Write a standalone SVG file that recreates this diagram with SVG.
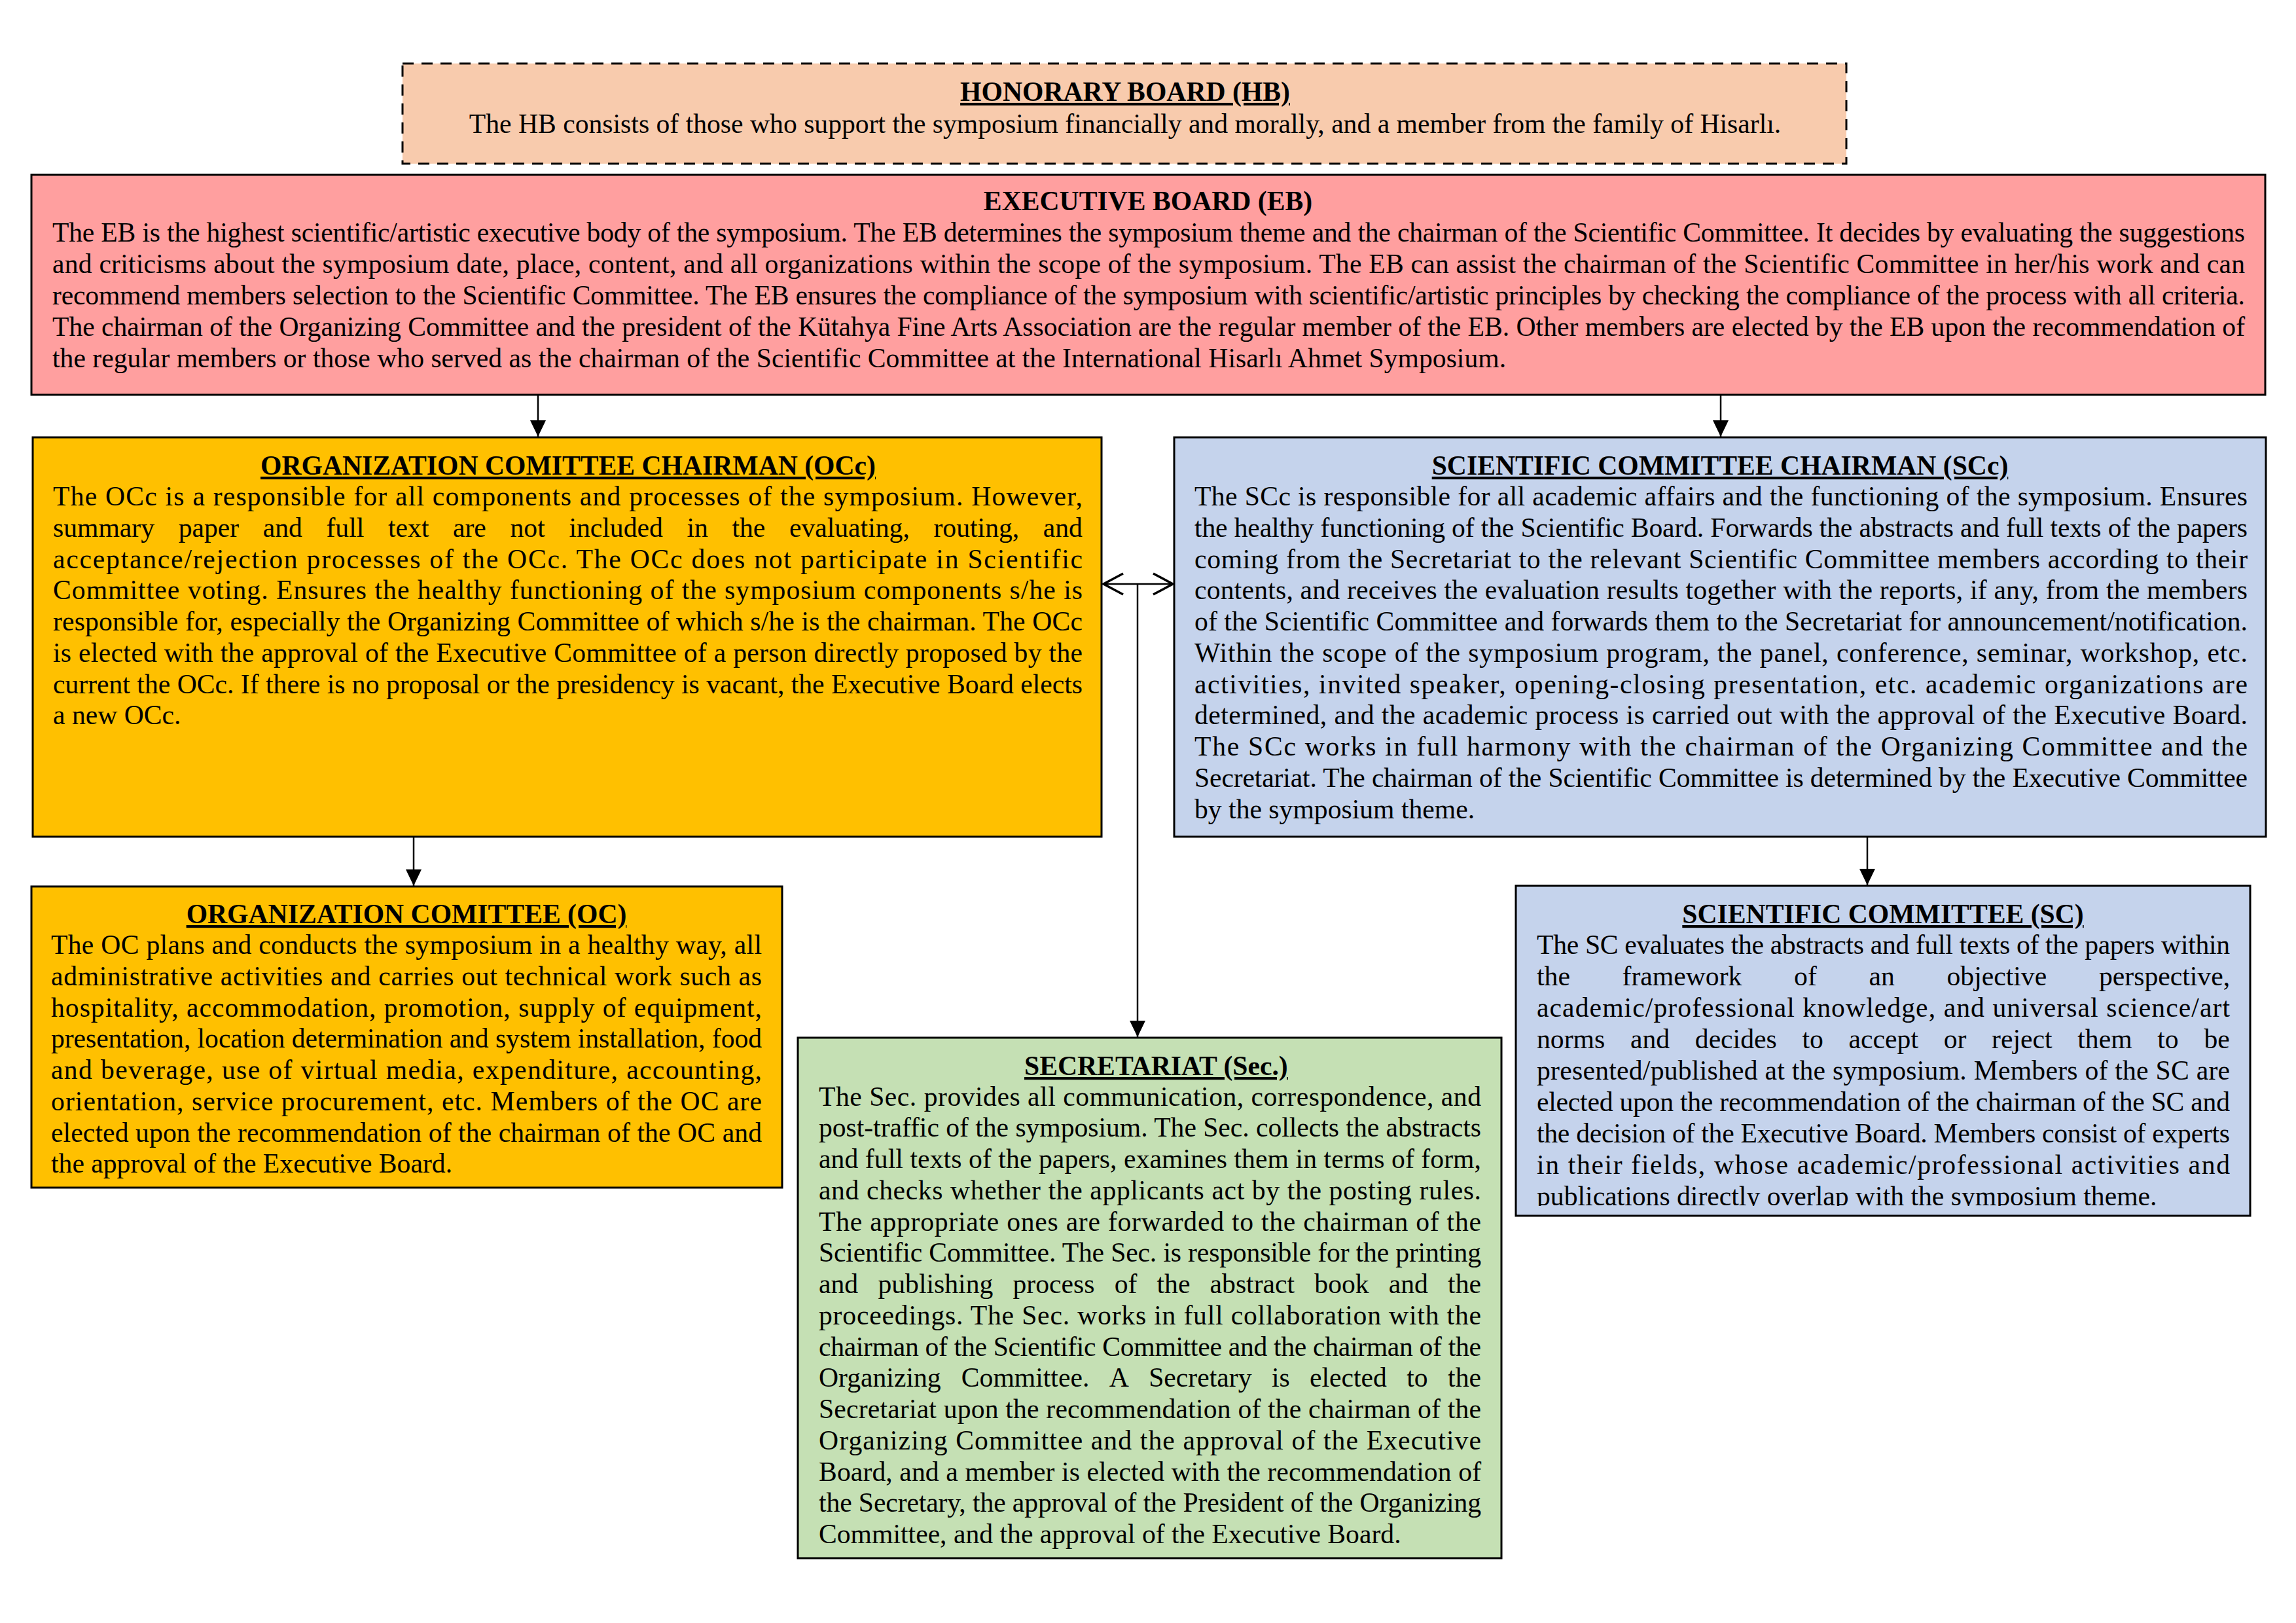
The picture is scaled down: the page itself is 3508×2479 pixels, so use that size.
<svg xmlns="http://www.w3.org/2000/svg" width="3508" height="2479" viewBox="0 0 3508 2479">
<style>
text{font-family:"Liberation Serif","Times New Roman",serif;font-size:41.67px;fill:#000}
.h{font-weight:bold;text-anchor:middle}
.u{text-decoration:underline}
.box{stroke:#000;stroke-width:3}
.con{fill:none;stroke:#000;stroke-width:2.5}
</style>
<defs>
<marker id="tri" markerUnits="userSpaceOnUse" markerWidth="26" markerHeight="26" refX="25" refY="12" orient="auto">
<path d="M0,0 L25,12 L0,24 Z" fill="#000"/>
</marker>
<marker id="chev" markerUnits="userSpaceOnUse" markerWidth="36" markerHeight="40" refX="32" refY="18" orient="auto-start-reverse">
<path d="M2,2 L32,18 L2,34" fill="none" stroke="#000" stroke-width="3.5"/>
</marker>
<clipPath id="scclip"><rect x="2316" y="1353" width="1122" height="489"/></clipPath>
</defs>
<rect x="0" y="0" width="3508" height="2479" fill="#fff"/>

<g id="connectors">
<line class="con" x1="822" y1="604" x2="822" y2="667" marker-end="url(#tri)"/>
<line class="con" x1="2629" y1="604" x2="2629" y2="667" marker-end="url(#tri)"/>
<line class="con" x1="632" y1="1279" x2="632" y2="1353" marker-end="url(#tri)"/>
<line class="con" x1="2853" y1="1279" x2="2853" y2="1352" marker-end="url(#tri)"/>
<line class="con" x1="1686" y1="892" x2="1792" y2="892" marker-start="url(#chev)" marker-end="url(#chev)"/>
<line class="con" x1="1738" y1="892" x2="1738" y2="1584" marker-end="url(#tri)"/>
</g>

<g id="hb">
<rect class="box" x="615" y="97" width="2206" height="153" fill="#F8CBAD" stroke-width="4" stroke-dasharray="17 12"/>
<text class="h u" x="1719" y="154">HONORARY BOARD (HB)</text>
<text x="1719" y="203" text-anchor="middle">The HB consists of those who support the symposium financially and morally, and a member from the family of Hisarlı.</text>
</g>

<g id="eb">
<rect class="box" x="48" y="267" width="3413" height="336" fill="#FF9F9F"/>
<text class="h" x="1754" y="321">EXECUTIVE BOARD (EB)</text>
<text x="80" y="368.5" textLength="3350" lengthAdjust="spacing">The EB is the highest scientific/artistic executive body of the symposium. The EB determines the symposium theme and the chairman of the Scientific Committee. It decides by evaluating the suggestions</text>
<text x="80" y="416.5" textLength="3350" lengthAdjust="spacing">and criticisms about the symposium date, place, content, and all organizations within the scope of the symposium. The EB can assist the chairman of the Scientific Committee in her/his work and can</text>
<text x="80" y="464.5" textLength="3350" lengthAdjust="spacing">recommend members selection to the Scientific Committee. The EB ensures the compliance of the symposium with scientific/artistic principles by checking the compliance of the process with all criteria.</text>
<text x="80" y="512.5" textLength="3350" lengthAdjust="spacing">The chairman of the Organizing Committee and the president of the Kütahya Fine Arts Association are the regular member of the EB. Other members are elected by the EB upon the recommendation of</text>
<text x="80" y="560.5">the regular members or those who served as the chairman of the Scientific Committee at the International Hisarlı Ahmet Symposium.</text>
</g>

<g id="occ">
<rect class="box" x="50" y="668" width="1633" height="610" fill="#FFC000"/>
<text class="h u" x="868" y="725">ORGANIZATION COMITTEE CHAIRMAN (OCc)</text>
<text x="81" y="772" textLength="1573" lengthAdjust="spacing">The OCc is a responsible for all components and processes of the symposium. However,</text>
<text y="819.75"><tspan x="81">summary</tspan><tspan x="272.7">paper</tspan><tspan x="401.7">and</tspan><tspan x="498.5">full</tspan><tspan x="593">text</tspan><tspan x="692">are</tspan><tspan x="779.5">not</tspan><tspan x="869.4">included</tspan><tspan x="1049.5">in</tspan><tspan x="1118.4">the</tspan><tspan x="1205.9">evaluating,</tspan><tspan x="1426.5">routing,</tspan><tspan x="1593.8">and</tspan></text>
<text x="81" y="867.5" textLength="1573" lengthAdjust="spacing">acceptance/rejection processes of the OCc. The OCc does not participate in Scientific</text>
<text x="81" y="915.25" textLength="1573" lengthAdjust="spacing">Committee voting. Ensures the healthy functioning of the symposium components s/he is</text>
<text x="81" y="963" textLength="1573" lengthAdjust="spacing">responsible for, especially the Organizing Committee of which s/he is the chairman. The OCc</text>
<text x="81" y="1010.75" textLength="1573" lengthAdjust="spacing">is elected with the approval of the Executive Committee of a person directly proposed by the</text>
<text x="81" y="1058.5" textLength="1573" lengthAdjust="spacing">current the OCc. If there is no proposal or the presidency is vacant, the Executive Board elects</text>
<text x="81" y="1106.25">a new OCc.</text>
</g>

<g id="scc">
<rect class="box" x="1794" y="668" width="1668" height="610" fill="#C5D3EC"/>
<text class="h u" x="2628" y="725">SCIENTIFIC COMMITTEE CHAIRMAN (SCc)</text>
<text x="1825" y="772" textLength="1609" lengthAdjust="spacing">The SCc is responsible for all academic affairs and the functioning of the symposium. Ensures</text>
<text x="1825" y="819.75" textLength="1609" lengthAdjust="spacing">the healthy functioning of the Scientific Board. Forwards the abstracts and full texts of the papers</text>
<text x="1825" y="867.5" textLength="1609" lengthAdjust="spacing">coming from the Secretariat to the relevant Scientific Committee members according to their</text>
<text x="1825" y="915.25" textLength="1609" lengthAdjust="spacing">contents, and receives the evaluation results together with the reports, if any, from the members</text>
<text x="1825" y="963" textLength="1609" lengthAdjust="spacing">of the Scientific Committee and forwards them to the Secretariat for announcement/notification.</text>
<text x="1825" y="1010.75" textLength="1609" lengthAdjust="spacing">Within the scope of the symposium program, the panel, conference, seminar, workshop, etc.</text>
<text x="1825" y="1058.5" textLength="1609" lengthAdjust="spacing">activities, invited speaker, opening-closing presentation, etc. academic organizations are</text>
<text x="1825" y="1106.25" textLength="1609" lengthAdjust="spacing">determined, and the academic process is carried out with the approval of the Executive Board.</text>
<text x="1825" y="1154" textLength="1609" lengthAdjust="spacing">The SCc works in full harmony with the chairman of the Organizing Committee and the</text>
<text x="1825" y="1201.75" textLength="1609" lengthAdjust="spacing">Secretariat. The chairman of the Scientific Committee is determined by the Executive Committee</text>
<text x="1825" y="1249.5">by the symposium theme.</text>
</g>

<g id="oc">
<rect class="box" x="48" y="1354" width="1147" height="460" fill="#FFC000"/>
<text class="h u" x="621" y="1410">ORGANIZATION COMITTEE (OC)</text>
<text x="78" y="1457" textLength="1086" lengthAdjust="spacing">The OC plans and conducts the symposium in a healthy way, all</text>
<text x="78" y="1504.75" textLength="1086" lengthAdjust="spacing">administrative activities and carries out technical work such as</text>
<text x="78" y="1552.5" textLength="1086" lengthAdjust="spacing">hospitality, accommodation, promotion, supply of equipment,</text>
<text x="78" y="1600.25" textLength="1086" lengthAdjust="spacing">presentation, location determination and system installation, food</text>
<text x="78" y="1648" textLength="1086" lengthAdjust="spacing">and beverage, use of virtual media, expenditure, accounting,</text>
<text x="78" y="1695.75" textLength="1086" lengthAdjust="spacing">orientation, service procurement, etc. Members of the OC are</text>
<text x="78" y="1743.5" textLength="1086" lengthAdjust="spacing">elected upon the recommendation of the chairman of the OC and</text>
<text x="78" y="1791.25">the approval of the Executive Board.</text>
</g>

<g id="sc">
<rect class="box" x="2316" y="1353" width="1122" height="504" fill="#C5D3EC"/>
<text class="h u" x="2877" y="1410">SCIENTIFIC COMMITTEE (SC)</text>
<g clip-path="url(#scclip)">
<text x="2348" y="1456.5" textLength="1059" lengthAdjust="spacing">The SC evaluates the abstracts and full texts of the papers within</text>
<text y="1504.5"><tspan x="2348">the</tspan><tspan x="2478.6">framework</tspan><tspan x="2741.1">of</tspan><tspan x="2855.5">an</tspan><tspan x="2974.5">objective</tspan><tspan x="3207">perspective,</tspan></text>
<text x="2348" y="1552.5" textLength="1059" lengthAdjust="spacing">academic/professional knowledge, and universal science/art</text>
<text y="1600.5"><tspan x="2348">norms</tspan><tspan x="2490.9">and</tspan><tspan x="2589.8">decides</tspan><tspan x="2753.5">to</tspan><tspan x="2824.6">accept</tspan><tspan x="2969.7">or</tspan><tspan x="3043.1">reject</tspan><tspan x="3174.3">them</tspan><tspan x="3296.3">to</tspan><tspan x="3367.4">be</tspan></text>
<text x="2348" y="1648.5" textLength="1059" lengthAdjust="spacing">presented/published at the symposium. Members of the SC are</text>
<text x="2348" y="1696.5" textLength="1059" lengthAdjust="spacing">elected upon the recommendation of the chairman of the SC and</text>
<text x="2348" y="1744.5" textLength="1059" lengthAdjust="spacing">the decision of the Executive Board. Members consist of experts</text>
<text x="2348" y="1792.5" textLength="1059" lengthAdjust="spacing">in their fields, whose academic/professional activities and</text>
<text x="2348" y="1840.5">publications directly overlap with the symposium theme.</text>
</g>
</g>

<g id="sec">
<rect class="box" x="1219" y="1585" width="1075" height="795" fill="#C5E0B4"/>
<text class="u" x="1565" y="1642" font-weight="bold">SECRETARIAT (Sec.)</text>
<text x="1251" y="1688.5" textLength="1012" lengthAdjust="spacing">The Sec. provides all communication, correspondence, and</text>
<text x="1251" y="1736.25" textLength="1012" lengthAdjust="spacing">post-traffic of the symposium. The Sec. collects the abstracts</text>
<text x="1251" y="1784" textLength="1012" lengthAdjust="spacing">and full texts of the papers, examines them in terms of form,</text>
<text x="1251" y="1831.75" textLength="1012" lengthAdjust="spacing">and checks whether the applicants act by the posting rules.</text>
<text x="1251" y="1879.5" textLength="1012" lengthAdjust="spacing">The appropriate ones are forwarded to the chairman of the</text>
<text x="1251" y="1927.25" textLength="1012" lengthAdjust="spacing">Scientific Committee. The Sec. is responsible for the printing</text>
<text y="1975"><tspan x="1251">and</tspan><tspan x="1341.4">publishing</tspan><tspan x="1547.5">process</tspan><tspan x="1702.7">of</tspan><tspan x="1767.5">the</tspan><tspan x="1848.6">abstract</tspan><tspan x="2008.3">book</tspan><tspan x="2121.8">and</tspan><tspan x="2212.1">the</tspan></text>
<text x="1251" y="2022.75" textLength="1012" lengthAdjust="spacing">proceedings. The Sec. works in full collaboration with the</text>
<text x="1251" y="2070.5" textLength="1012" lengthAdjust="spacing">chairman of the Scientific Committee and the chairman of the</text>
<text y="2118.25"><tspan x="1251">Organizing</tspan><tspan x="1468.8">Committee.</tspan><tspan x="1694.8">A</tspan><tspan x="1755.2">Secretary</tspan><tspan x="1942.9">is</tspan><tspan x="2001">elected</tspan><tspan x="2149.3">to</tspan><tspan x="2212.1">the</tspan></text>
<text x="1251" y="2166" textLength="1012" lengthAdjust="spacing">Secretariat upon the recommendation of the chairman of the</text>
<text x="1251" y="2213.75" textLength="1012" lengthAdjust="spacing">Organizing Committee and the approval of the Executive</text>
<text x="1251" y="2261.5" textLength="1012" lengthAdjust="spacing">Board, and a member is elected with the recommendation of</text>
<text x="1251" y="2309.25" textLength="1012" lengthAdjust="spacing">the Secretary, the approval of the President of the Organizing</text>
<text x="1251" y="2357">Committee, and the approval of the Executive Board.</text>
</g>
</svg>
